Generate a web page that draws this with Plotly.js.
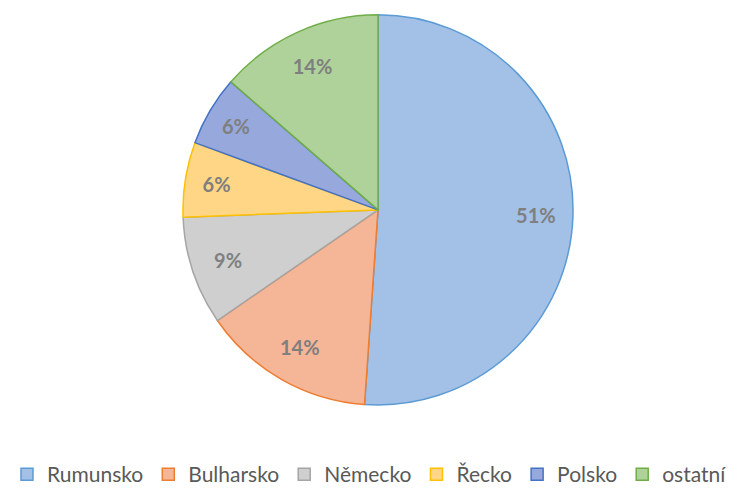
<!DOCTYPE html>
<html>
<head>
<meta charset="utf-8">
<script src="https://cdn.plot.ly/plotly-3.0.1.min.js"></script>
<style>
  html, body { margin: 0; padding: 0; background: #fff; }
  #chart { width: 739px; height: 495px; }
</style>
</head>
<body>
<div id="chart"></div>
<script>
// country shares (in percent)
const countries = ['Rumunsko', 'Bulharsko', 'Německo', 'Řecko', 'Polsko', 'ostatní'];
const shares = [51.1, 14.3, 9.0, 6.2, 5.8, 13.6];
const fillColors = ['#a3c0e6', '#f5b597', '#cfcfcf', '#ffd685', '#97a8dc', '#aed29a'];
const edgeColors = ['#5b9bd5', '#ed7d31', '#a5a5a5', '#ffc000', '#4472c4', '#70ad47'];

const labelFont = {family: 'Lato, "Open Sans", sans-serif', size: 20, color: '#7f7f7f', weight: 'bold'};

// pie sits in a fixed box so the legend can't squeeze it
const pieDomain = {x: [0.023, 1], y: [0.182, 0.97]};

// the filled pie, no text
const slices = {
  type: 'pie',
  labels: countries,
  values: shares,
  sort: false,
  direction: 'clockwise',
  rotation: 0,
  domain: pieDomain,
  marker: {colors: fillColors, line: {color: edgeColors, width: 1.5}},
  textinfo: 'none',
  hoverinfo: 'label+percent'
};

// transparent ring on top, only to put the % labels near the rim (like Excel does)
const ringLabels = {
  type: 'pie',
  labels: countries,
  values: shares,
  sort: false,
  direction: 'clockwise',
  rotation: 0,
  domain: pieDomain,
  hole: 0.62,
  showlegend: false,
  marker: {colors: countries.map(() => 'rgba(0,0,0,0)'), line: {width: 0}},
  texttemplate: '%{percent:.0%}',
  textposition: 'inside',
  insidetextorientation: 'horizontal',
  textfont: labelFont,
  hoverinfo: 'skip'
};

const layout = {
  width: 739,
  height: 495,
  margin: {l: 0, r: 0, t: 0, b: 0},
  paper_bgcolor: '#fff',
  showlegend: true,
  legend: {
    orientation: 'h',
    x: 0.5, xanchor: 'center',
    y: 0.0, yanchor: 'bottom',
    font: {family: 'Lato, "Open Sans", sans-serif', size: 21, color: '#595959'},
    itemwidth: 30
  }
};

Plotly.newPlot('chart', [slices, ringLabels], layout, {displayModeBar: false});
</script>
</body>
</html>
